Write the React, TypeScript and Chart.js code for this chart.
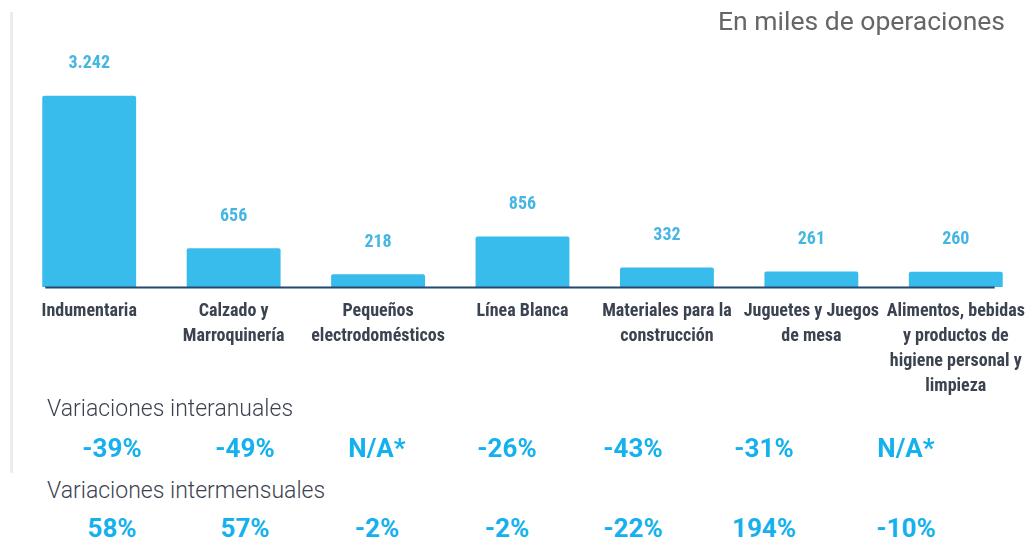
import React, { useEffect, useRef } from "react";
import { Chart, registerables } from "chart.js";

Chart.register(...registerables);

// ---- data ----
const categories: string[][] = [
  ["Indumentaria"],
  ["Calzado y", "Marroquinería"],
  ["Pequeños", "electrodomésticos"],
  ["Línea Blanca"],
  ["Materiales para la", "construcción"],
  ["Juguetes y Juegos", "de mesa"],
  ["Alimentos, bebidas", "y productos de", "higiene personal y", "limpieza"],
];
const operaciones = [3242, 656, 218, 856, 332, 261, 260];
const valueLabels = ["3.242", "656", "218", "856", "332", "261", "260"];
const interanuales = ["-39%", "-49%", "N/A*", "-26%", "-43%", "-31%", "N/A*"];
const intermensuales = ["58%", "57%", "-2%", "-2%", "-22%", "194%", "-10%"];
const unitTitle = "En miles de operaciones";
const rowTitleInteranual = "Variaciones interanuales";
const rowTitleIntermensual = "Variaciones intermensuales";

// ---- layout / style ----
const VAR_COLUMN_X = [112, 245, 377, 507, 633, 764, 906];
const CONDENSED = "'Liberation Sans Narrow', 'Roboto Condensed', 'DejaVu Sans Condensed', sans-serif";
const BAR_COLOR = "#38bcec";
const LABEL_BLUE = "#45b6e3";
const PCT_BLUE = "#14b1ee";
const DARK = "#3c4350";

const overlayPlugin = {
  id: "overlay",
  afterDatasetsDraw(chart: any) {
    const ctx = chart.ctx;
    const meta = chart.getDatasetMeta(0);
    const bars = meta.data;
    const area = chart.chartArea;
    ctx.save();
    // baseline
    const first = bars[0];
    const last = bars[bars.length - 1];
    ctx.strokeStyle = "#27476e";
    ctx.lineWidth = 2;
    ctx.beginPath();
    ctx.moveTo(first.x - first.width / 2 + 3, area.bottom + 0.5);
    ctx.lineTo(last.x + last.width / 2 - 8, area.bottom + 0.5);
    ctx.stroke();
    // value labels
    ctx.fillStyle = LABEL_BLUE;
    ctx.font = `bold 18px ${CONDENSED}`;
    ctx.textAlign = "center";
    ctx.textBaseline = "middle";
    bars.forEach((bar: any, i: number) => {
      ctx.fillText(valueLabels[i], bar.x, bar.y - 32);
    });
    ctx.restore();
  },
};

export default function App() {
  const canvasRef = useRef<HTMLCanvasElement | null>(null);

  useEffect(() => {
    if (!canvasRef.current) return;
    const chart = new Chart(canvasRef.current, {
      type: "bar",
      data: {
        labels: categories,
        datasets: [
          {
            data: operaciones,
            backgroundColor: BAR_COLOR,
            borderRadius: 2,
            categoryPercentage: 1,
            barPercentage: 0.65,
          },
        ],
      },
      options: {
        animation: false,
        responsive: false,
        devicePixelRatio: 1,
        layout: { padding: { top: 51, left: 17, right: 1, bottom: 0 } },
        plugins: {
          legend: { display: false },
          tooltip: { enabled: false },
        },
        scales: {
          x: {
            grid: { display: false, drawTicks: false },
            border: { display: false },
            ticks: {
              color: DARK,
              padding: 12,
              maxRotation: 0,
              autoSkip: false,
              font: { family: CONDENSED, size: 18, weight: "bold", lineHeight: 25 / 18 },
            },
            afterFit: (scale: any) => {
              scale.height = 113;
              scale.paddingLeft = 0;
              scale.paddingRight = 0;
            },
          },
          y: {
            display: false,
            min: 0,
            max: 4000,
          },
        },
      },
      plugins: [overlayPlugin],
    });
    return () => chart.destroy();
  }, []);

  const pctStyle = (x: number, y: number): React.CSSProperties => ({
    position: "absolute",
    left: x,
    top: y,
    transform: "translate(-50%, -50%)",
    color: PCT_BLUE,
    fontFamily: "Roboto, sans-serif",
    fontWeight: 700,
    fontSize: 26,
    whiteSpace: "nowrap",
    lineHeight: 1,
  });

  const rowTitleStyle = (y: number): React.CSSProperties => ({
    position: "absolute",
    left: 47,
    top: y,
    transform: "translateY(-50%)",
    color: DARK,
    fontFamily: "Roboto, sans-serif",
    fontWeight: 300,
    fontSize: 23,
    whiteSpace: "nowrap",
    lineHeight: 1,
  });

  return (
    <div
      style={{
        position: "absolute",
        left: 0,
        top: 0,
        width: 1029,
        height: 540,
        background: "#ffffff",
        overflow: "hidden",
      }}
    >
      <div
        style={{
          position: "absolute",
          left: 10,
          top: 12,
          width: 3,
          height: 461,
          background: "#ececec",
        }}
      />
      <canvas
        ref={canvasRef}
        width={1029}
        height={400}
        style={{ position: "absolute", left: 0, top: 0, width: 1029, height: 400 }}
      />
      <div
        style={{
          position: "absolute",
          right: 24,
          top: 21,
          transform: "translateY(-50%)",
          color: "#666666",
          fontFamily: "Roboto, sans-serif",
          fontSize: 26.5,
          whiteSpace: "nowrap",
          lineHeight: 1,
        }}
      >
        {unitTitle}
      </div>
      <div style={rowTitleStyle(408)}>{rowTitleInteranual}</div>
      {interanuales.map((t, i) => (
        <div key={"ia" + i} style={pctStyle(VAR_COLUMN_X[i], 448)}>
          {t}
        </div>
      ))}
      <div style={rowTitleStyle(490)}>{rowTitleIntermensual}</div>
      {intermensuales.map((t, i) => (
        <div key={"im" + i} style={pctStyle(VAR_COLUMN_X[i], 528)}>
          {t}
        </div>
      ))}
    </div>
  );
}
